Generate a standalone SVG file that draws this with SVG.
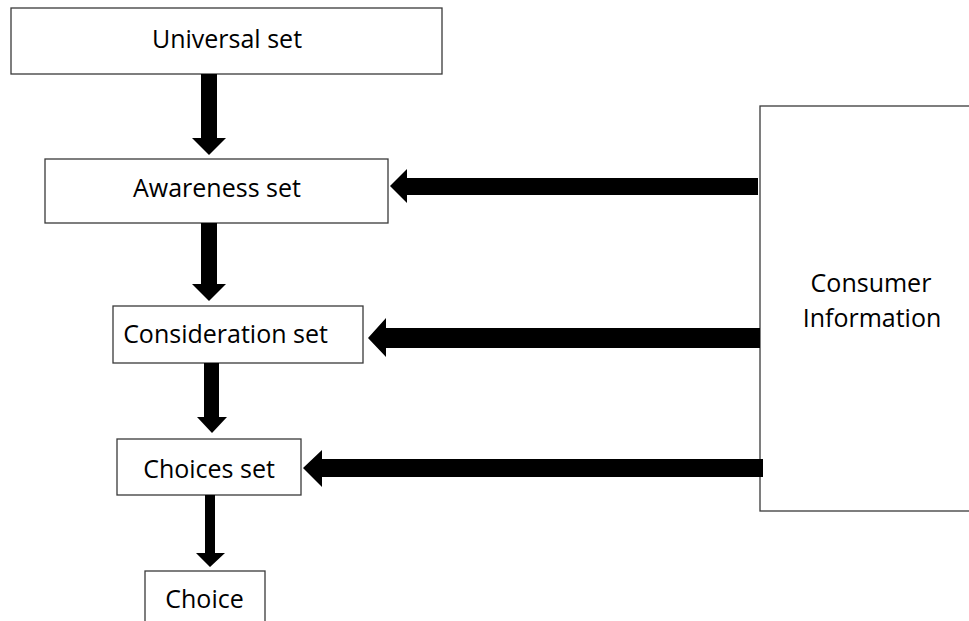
<svg xmlns="http://www.w3.org/2000/svg" width="969" height="621" viewBox="0 0 969 621">
<style>
.box{fill:#fff;stroke:#3a3a3a;stroke-width:1.3}
.lbl{font-family:"Open Sans","Noto Sans","Liberation Sans",sans-serif;font-size:25px;fill:#000;text-anchor:middle}
.arr{fill:#000}
</style>
<rect width="969" height="621" fill="#fff"/>
<g id="universal"><rect class="box" x="11" y="8" width="431" height="66"/><text class="lbl" x="227" y="48">Universal set</text></g>
<g id="awareness"><rect class="box" x="45" y="159" width="343" height="64"/><text class="lbl" x="217" y="197">Awareness set</text></g>
<g id="consideration"><rect class="box" x="113" y="306" width="250" height="57"/><text class="lbl" x="225.5" y="343">Consideration set</text></g>
<g id="choices"><rect class="box" x="117" y="439" width="184" height="56"/><text class="lbl" x="209" y="478">Choices set</text></g>
<g id="choice"><rect class="box" x="145" y="571" width="120" height="60"/><text class="lbl" x="204.5" y="608">Choice</text></g>
<g id="consumer"><rect class="box" x="760" y="106" width="220" height="405"/><text class="lbl" x="871" y="292">Consumer</text><text class="lbl" x="872" y="327">Information</text></g>
<g id="connectors">
<polygon class="arr" points="201,74 217,74 217,138 226,138 209,155 192,138 201,138"/>
<polygon class="arr" points="201,223 217,223 217,284 226,284 209,301 192,284 201,284"/>
<polygon class="arr" points="204,363 219,363 219,417 227,417 212,433 197,417 204,417"/>
<polygon class="arr" points="205,495 215,495 215,553 225,553 210,567 196,553 205,553"/>
<polygon class="arr" points="758,178 758,195 407,195 407,203 390,186 407,169 407,178"/>
<polygon class="arr" points="760,328 760,348 386,348 386,357 368,338 386,318 386,328"/>
<polygon class="arr" points="763,459 763,477 322,477 322,487 303,468 322,450 322,459"/>
</g>
</svg>
